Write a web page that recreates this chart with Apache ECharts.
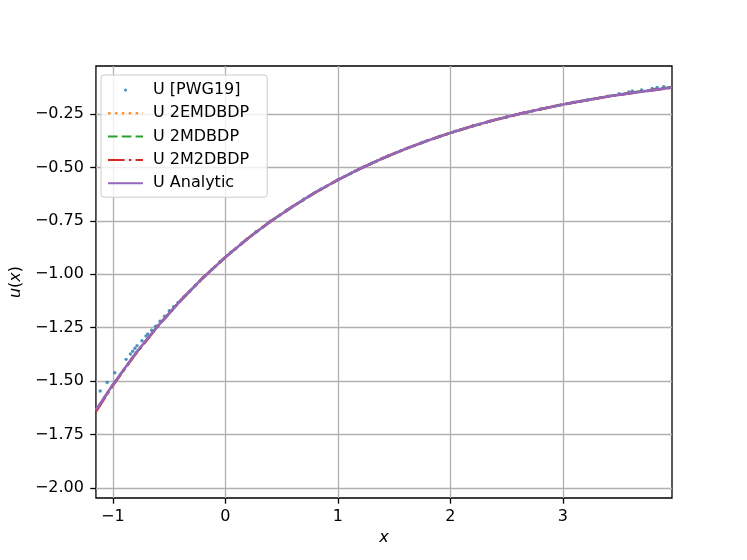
<!DOCTYPE html>
<html>
<head>
<meta charset="utf-8">
<script src="https://cdn.jsdelivr.net/npm/echarts@6/dist/echarts.min.js"></script>
<style>html,body{margin:0;padding:0;background:#fff}#c{width:747px;height:560px}</style>
</head>
<body>
<div id="c"></div>
<script>
// ---- data ----
const xTicks = [-1, 0, 1, 2, 3];
const yTicks = [-2.0, -1.75, -1.5, -1.25, -1.0, -0.75, -0.5, -0.25];

const pwg19 = [
  [-1.112,-1.546],[-1.050,-1.506],[-0.982,-1.461],[-0.882,-1.398],[-0.843,-1.373],
  [-0.823,-1.360],[-0.803,-1.346],[-0.785,-1.334],[-0.741,-1.311],[-0.705,-1.289],
  [-0.690,-1.279],[-0.655,-1.262],[-0.620,-1.243],[-0.580,-1.220],[-0.540,-1.196],
  [-0.498,-1.170],[-0.460,-1.152],[-0.420,-1.132],[-0.370,-1.106],[-0.320,-1.081],
  [-0.260,-1.049],[-0.200,-1.016],[-0.120,-0.977],[-0.050,-0.942],[0.050,-0.897],
  [0.150,-0.853],[0.270,-0.802],[0.400,-0.752],[0.550,-0.699],[0.700,-0.647],
  [0.850,-0.602],[1.000,-0.557],[1.150,-0.517],[1.300,-0.480],[1.450,-0.445],
  [1.600,-0.413],[1.750,-0.383],[1.900,-0.355],[2.050,-0.329],[2.200,-0.305],
  [2.350,-0.283],[2.500,-0.263],[2.650,-0.244],[2.800,-0.226],[2.950,-0.210],
  [3.100,-0.195],[3.250,-0.181],[3.400,-0.166],[3.500,-0.155],[3.587,-0.146],
  [3.617,-0.142],[3.700,-0.137],[3.794,-0.130],[3.838,-0.125],[3.897,-0.122]
];

const xs = [-1.15,-1.0,-0.8,-0.6,-0.4,-0.2,0.0,0.2,0.4,0.6,0.8,1.0,1.2,1.4,1.6,1.8,2.0,2.2,2.4,2.6,2.8,3.0,3.2,3.4,3.6,3.8,3.97];
const uAnalytic = [-1.635,-1.517,-1.372,-1.242,-1.124,-1.017,-0.920,-0.832,-0.753,-0.682,-0.617,-0.558,-0.505,-0.457,-0.413,-0.374,-0.338,-0.306,-0.277,-0.251,-0.227,-0.205,-0.186,-0.168,-0.152,-0.138,-0.126];
const u2EMDBDP = [-1.637,-1.518,-1.373,-1.242,-1.124,-1.017,-0.920,-0.832,-0.753,-0.682,-0.617,-0.558,-0.505,-0.457,-0.413,-0.374,-0.338,-0.306,-0.277,-0.251,-0.227,-0.205,-0.186,-0.168,-0.152,-0.137,-0.125];
const u2MDBDP = [-1.638,-1.518,-1.373,-1.243,-1.124,-1.017,-0.920,-0.832,-0.753,-0.682,-0.617,-0.558,-0.505,-0.457,-0.413,-0.374,-0.338,-0.306,-0.277,-0.251,-0.227,-0.205,-0.186,-0.167,-0.151,-0.136,-0.124];
const u2M2DBDP = [-1.642,-1.520,-1.374,-1.243,-1.124,-1.017,-0.920,-0.832,-0.753,-0.682,-0.617,-0.558,-0.505,-0.457,-0.413,-0.374,-0.338,-0.306,-0.277,-0.251,-0.227,-0.205,-0.186,-0.168,-0.152,-0.138,-0.126];

const names = ['U [PWG19]','U 2EMDBDP','U 2MDBDP','U 2M2DBDP','U Analytic'];
const colors = ['#1f77b4','#ff7f0e','#2ca02c','#d62728','#9467bd'];

const zip = (a, b) => a.map((v, i) => [v, b[i]]);
const fmt = v => (v < 0 ? '\u2212' : '') + Math.abs(v);
const fmtY = v => (v < 0 ? '\u2212' : '') + Math.abs(v).toFixed(2);

const FONT = 'DejaVu Sans';
const dotSvg = 'image://data:image/svg+xml;charset=utf-8,' + encodeURIComponent(
  '<svg xmlns="http://www.w3.org/2000/svg" width="35" height="16" viewBox="0 0 35 16"><circle cx="17.5" cy="8" r="1.6" fill="#1f77b4"/></svg>');

const lw = 2.6;
const chart = echarts.init(document.getElementById('c'), null, {renderer: 'canvas'});
chart.setOption({
  animation: false,
  backgroundColor: '#fff',
  grid: {left: 93, right: 75, top: 66, bottom: 62, show: true, borderColor: '#000', borderWidth: 1.3, backgroundColor: 'transparent'},
  legend: {
    orient: 'vertical', left: 101, top: 75,
    padding: [7, 18, 6, 6],
    itemWidth: 35, itemHeight: 16, itemGap: 7.3,
    backgroundColor: 'rgba(255,255,255,0.8)', borderColor: '#cccccc', borderWidth: 1, borderRadius: 3,
    textStyle: {fontFamily: FONT, fontSize: 16, color: '#000', lineHeight: 16, padding: [0, 0, 0, 5]},
    data: [
      {name: names[0], icon: dotSvg},
      {name: names[1], itemStyle: {opacity: 0}},
      {name: names[2], itemStyle: {opacity: 0}},
      {name: names[3], itemStyle: {opacity: 0}},
      {name: names[4], itemStyle: {opacity: 0}}
    ]
  },
  xAxis: {
    type: 'value', min: -1.15, max: 3.97,
    axisLine: {show: false, onZero: false},
    axisTick: {show: true, length: 5.7, lineStyle: {color: '#000', width: 1.3}, customValues: xTicks},
    axisLabel: {customValues: xTicks, formatter: fmt, fontFamily: FONT, fontSize: 16, color: '#000', margin: 11},
    splitLine: {show: true, lineStyle: {color: '#b0b0b0', width: 1.3}},
    name: 'x', nameLocation: 'middle', nameGap: 32,
    nameTextStyle: {fontFamily: FONT, fontSize: 16, color: '#000', fontStyle: 'italic'}
  },
  yAxis: {
    type: 'value', min: -2.047, max: -0.025,
    axisLine: {show: false, onZero: false},
    axisTick: {show: true, length: 5.7, lineStyle: {color: '#000', width: 1.3}, customValues: yTicks},
    axisLabel: {customValues: yTicks, formatter: fmtY, fontFamily: FONT, fontSize: 16, color: '#000', margin: 12},
    splitLine: {show: true, lineStyle: {color: '#b0b0b0', width: 1.3}},
    name: '{i|u}({i|x})', nameLocation: 'middle', nameGap: 60, nameRotate: 90,
    nameTextStyle: {fontFamily: FONT, fontSize: 16, color: '#000',
      rich: {i: {fontFamily: FONT, fontSize: 16, fontStyle: 'italic', color: '#000'}}}
  },
  series: [
    {name: names[0], type: 'scatter', data: pwg19, symbol: 'circle', symbolSize: 3.4,
     itemStyle: {color: colors[0]}, clip: true},
    {name: names[1], type: 'line', data: zip(xs, u2EMDBDP), symbol: 'none', clip: true,
     lineStyle: {color: colors[1], width: lw, type: [2.6, 4.3]}, itemStyle: {color: colors[1]}},
    {name: names[2], type: 'line', data: zip(xs, u2MDBDP), symbol: 'none', clip: true,
     lineStyle: {color: colors[2], width: lw, type: [9.6, 4.2]}, itemStyle: {color: colors[2]}},
    {name: names[3], type: 'line', data: zip(xs, u2M2DBDP), symbol: 'none', clip: true,
     lineStyle: {color: colors[3], width: lw, type: [16.6, 4.2, 2.6, 4.2]}, itemStyle: {color: colors[3]}},
    {name: names[4], type: 'line', data: zip(xs, uAnalytic), symbol: 'none', clip: true,
     lineStyle: {color: colors[4], width: lw}, itemStyle: {color: colors[4]}}
  ]
});
</script>
</body>
</html>
